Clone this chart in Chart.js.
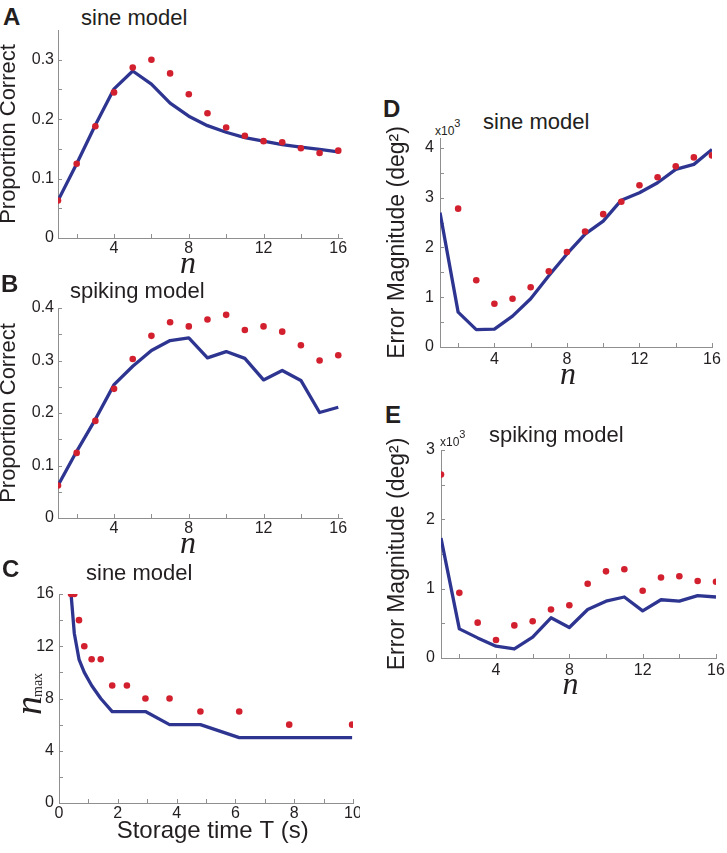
<!DOCTYPE html>
<html>
<head>
<meta charset="utf-8">
<script src="https://cdn.jsdelivr.net/npm/chart.js@4.4.1/dist/chart.umd.min.js"></script>
<style>
  body { margin: 0; width: 727px; height: 853px; position: relative; overflow: hidden; background: #fff; font-family: "Liberation Sans", Arial, sans-serif; color: #231f20; }
  canvas { position: absolute; }
  .letter { position: absolute; font-weight: bold; font-size: 24px; line-height: 1; }
  .ptitle { position: absolute; font-size: 22px; line-height: 1; white-space: nowrap; }
  .mult { position: absolute; font-size: 12px; line-height: 1; white-space: nowrap; }
  .mult sup { position: relative; top: -0.7em; font-size: 11px; vertical-align: baseline; }
  #clipC { position: absolute; left: 0; top: 540px; width: 360px; height: 313px; overflow: hidden; }
  #nmax { position: absolute; left: 9px; top: 715px; transform: rotate(-90deg); transform-origin: left top; font-family: "Liberation Serif", serif; line-height: 1; white-space: nowrap; }
  #nmax i { font-size: 38px; }
  #nmax sub { font-size: 14px; vertical-align: baseline; position: relative; top: 1px; margin-left: -1px; }
</style>
</head>
<body>

<div class="letter" style="left:3px; top:5px;">A</div>
<div class="ptitle" style="left:81px; top:7px;">sine model</div>
<canvas id="chartA" width="356" height="281" style="left:-2px; top:0px;"></canvas>

<div class="letter" style="left:1px; top:272px;">B</div>
<div class="ptitle" style="left:70px; top:280px;">spiking model</div>
<canvas id="chartB" width="356" height="291" style="left:-2px; top:270px;"></canvas>

<div class="letter" style="left:2px; top:557px;">C</div>
<div class="ptitle" style="left:86px; top:562px;">sine model</div>
<div id="clipC"><canvas id="chartC" width="375" height="303" style="left:-2px; top:0px;"></canvas></div>
<div id="nmax"><i>n</i><sub>max</sub></div>

<div class="letter" style="left:383px; top:97px;">D</div>
<div class="ptitle" style="left:483px; top:111px;">sine model</div>
<div class="mult" style="left:435px; top:125px;">x10<sup>3</sup></div>
<canvas id="chartD" width="338" height="312" style="left:386px; top:80px;"></canvas>

<div class="letter" style="left:385px; top:403px;">E</div>
<div class="ptitle" style="left:489px; top:424px;">spiking model</div>
<div class="mult" style="left:440px; top:436px;">x10<sup>3</sup></div>
<canvas id="chartE" width="342" height="322" style="left:386px; top:380px;"></canvas>

<script>
// set sizes n
const nVals = [1, 2, 3, 4, 5, 6, 7, 8, 9, 10, 11, 12, 13, 14, 15, 16];

// A: proportion correct, sine model
const dotsA = [0.063, 0.125, 0.188, 0.245, 0.287, 0.300, 0.277, 0.242, 0.210, 0.186, 0.172, 0.163, 0.161, 0.151, 0.143, 0.147];
const lineA = [0.063, 0.125, 0.190, 0.251, 0.281, 0.259, 0.227, 0.205, 0.189, 0.178, 0.169, 0.163, 0.157, 0.153, 0.149, 0.145];

// B: proportion correct, spiking model
const dotsB = [0.062, 0.124, 0.185, 0.246, 0.303, 0.347, 0.373, 0.365, 0.378, 0.387, 0.358, 0.365, 0.355, 0.329, 0.300, 0.310];
const lineB = [0.062, 0.127, 0.188, 0.254, 0.289, 0.319, 0.338, 0.343, 0.305, 0.317, 0.304, 0.263, 0.281, 0.262, 0.201, 0.211];

// C: n_max against storage time T (s)
const storageT = [0.41, 0.52, 0.68, 0.86, 1.11, 1.42, 1.81, 2.31, 2.94, 3.76, 4.81, 6.13, 7.83, 9.97];
const dotsC = [16, 16, 14, 12, 11, 11, 9, 9, 8, 8, 7, 7, 6, 6];
const lineC = [16, 13, 11, 10, 9, 8, 7, 7, 7, 6, 6, 5, 5, 5];

// D, E: error magnitude (deg^2, x10^3)
const dotsD = [null, 2.78, 1.34, 0.87, 0.97, 1.20, 1.52, 1.91, 2.32, 2.67, 2.92, 3.25, 3.41, 3.63, 3.81, 3.85];
const lineD = [2.70, 0.70, 0.35, 0.36, 0.62, 0.97, 1.43, 1.87, 2.27, 2.53, 2.95, 3.10, 3.30, 3.57, 3.67, 3.97];
const dotsE = [2.645, 0.94, 0.51, 0.26, 0.47, 0.53, 0.70, 0.76, 1.07, 1.25, 1.28, 0.97, 1.16, 1.18, 1.11, 1.10];
const lineE = [1.73, 0.42, 0.29, 0.17, 0.13, 0.30, 0.58, 0.44, 0.70, 0.82, 0.88, 0.68, 0.84, 0.82, 0.90, 0.88];

// tick marks and which of them get a label
const xTicksN = [2, 4, 6, 8, 10, 12, 14, 16];
const xLabelsN = [4, 8, 12, 16];
const xTicksC = [0, 1, 2, 3, 4, 5, 6, 7, 8, 9, 10];
const xLabelsC = [0, 2, 4, 6, 8, 10];
const yTicksA = [0, 0.05, 0.1, 0.15, 0.2, 0.25, 0.3];
const yLabelsA = [0, 0.1, 0.2, 0.3];
const yTicksB = [0, 0.05, 0.1, 0.15, 0.2, 0.25, 0.3, 0.35, 0.4];
const yLabelsB = [0, 0.1, 0.2, 0.3, 0.4];
const yTicksC = [0, 2, 4, 6, 8, 10, 12, 14, 16];
const yLabelsC = [0, 4, 8, 12, 16];
const yTicksD = [0, 0.5, 1, 1.5, 2, 2.5, 3, 3.5, 4];
const yLabelsD = [0, 1, 2, 3, 4];
const yTicksE = [0, 0.5, 1, 1.5, 2, 2.5, 3];
const yLabelsE = [0, 1, 2, 3];

const navy = '#2d3591';
const red = '#d2202f';
const axisGray = '#8f8f8f';
const textDark = '#231f20';

// short tick marks pointing into the plot, like the matlab style
const innerTicks = {
    id: 'innerTicks',
    beforeDatasetsDraw(chart) {
        const { ctx, chartArea, scales } = chart;
        ctx.save();
        ctx.strokeStyle = axisGray;
        ctx.lineWidth = 1;
        ctx.beginPath();
        scales.x.ticks.forEach(t => {
            const px = Math.round(scales.x.getPixelForValue(t.value)) + 0.5;
            ctx.moveTo(px, chartArea.bottom);
            ctx.lineTo(px, chartArea.bottom - 4);
        });
        scales.y.ticks.forEach(t => {
            const py = Math.round(scales.y.getPixelForValue(t.value)) + 0.5;
            ctx.moveTo(chartArea.left, py);
            ctx.lineTo(chartArea.left + 4, py);
        });
        ctx.stroke();
        ctx.restore();
    }
};

function points(xs, ys) {
    return xs.map((x, i) => ({ x: x, y: ys[i] }));
}

function makeAxis(p) {
    return {
        type: 'linear',
        position: p.position,
        min: p.min,
        max: p.max,
        border: { color: axisGray, width: 1 },
        grid: { display: false, drawTicks: false },
        ticks: {
            color: textDark,
            font: { family: 'Liberation Sans', size: 16 },
            padding: p.padding,
            autoSkip: false,
            maxRotation: 0,
            callback: v => p.labels.includes(v) ? String(v) : ''
        },
        title: {
            display: !!p.title,
            text: p.title || '',
            color: textDark,
            font: p.titleFont,
            padding: 0
        },
        afterBuildTicks: scale => { scale.ticks = p.ticks.map(v => ({ value: v })); },
        afterFit: scale => {
            if (p.position === 'left') scale.width = p.size;
            else scale.height = p.size;
        }
    };
}

const nFont = { family: 'Liberation Serif', size: 32, style: 'italic', lineHeight: 1 };
const propFont = { family: 'Liberation Sans', size: 22, lineHeight: 1 };
const errFont = { family: 'Liberation Sans', size: 23, lineHeight: 1 };

function makePanel(id, p) {
    new Chart(document.getElementById(id), {
        type: 'line',
        data: {
            datasets: [
                {
                    data: points(p.xs, p.dots),
                    showLine: false,
                    pointRadius: 3.3,
                    pointBorderWidth: 0,
                    pointBackgroundColor: red
                },
                {
                    data: points(p.xs, p.line),
                    borderColor: navy,
                    borderWidth: 3.3,
                    borderJoinStyle: 'round',
                    pointRadius: 0,
                    tension: 0
                }
            ]
        },
        options: {
            responsive: false,
            animation: false,
            events: [],
            layout: { padding: p.pad },
            plugins: { legend: { display: false }, tooltip: { enabled: false } },
            scales: { x: makeAxis(p.x), y: makeAxis(p.y) }
        },
        plugins: [innerTicks]
    });
}

makePanel('chartA', {
    xs: nVals, dots: dotsA, line: lineA,
    pad: { left: 0, top: 30, right: 12, bottom: 0 },
    x: { position: 'bottom', min: 1, max: 16.2, ticks: xTicksN, labels: xLabelsN, padding: 1, size: 43, title: 'n   ', titleFont: nFont },
    y: { position: 'left', min: 0, max: 0.35, ticks: yTicksA, labels: yLabelsA, padding: 4, size: 60, title: 'Proportion Correct', titleFont: propFont }
});

makePanel('chartB', {
    xs: nVals, dots: dotsB, line: lineB,
    pad: { left: 0, top: 38, right: 12, bottom: 0 },
    x: { position: 'bottom', min: 1, max: 16.2, ticks: xTicksN, labels: xLabelsN, padding: 1, size: 43, title: 'n   ', titleFont: nFont },
    y: { position: 'left', min: 0, max: 0.4, ticks: yTicksB, labels: yLabelsB, padding: 4, size: 60, title: 'Proportion Correct', titleFont: propFont }
});

makePanel('chartC', {
    xs: storageT, dots: dotsC, line: lineC,
    pad: { left: 0, top: 54, right: 20, bottom: 0 },
    x: { position: 'bottom', min: 0, max: 10, ticks: xTicksC, labels: xLabelsC, padding: 1, size: 40, title: '  Storage time T (s)', titleFont: { family: 'Liberation Sans', size: 24, lineHeight: 1 } },
    y: { position: 'left', min: 0, max: 16, ticks: yTicksC, labels: yLabelsC, padding: 5, size: 61 }
});

makePanel('chartD', {
    xs: nVals, dots: dotsD, line: lineD,
    pad: { left: 0, top: 58, right: 12, bottom: 0 },
    x: { position: 'bottom', min: 1, max: 16, ticks: xTicksN, labels: xLabelsN, padding: 2.5, size: 45, title: 'n  ', titleFont: nFont },
    y: { position: 'left', min: 0, max: 4.2, ticks: yTicksD, labels: yLabelsD, padding: 6, size: 54, title: 'Error Magnitude (deg²)', titleFont: errFont }
});

makePanel('chartE', {
    xs: nVals, dots: dotsE, line: lineE,
    pad: { left: 0, top: 70, right: 12, bottom: 0 },
    x: { position: 'bottom', min: 1, max: 16, ticks: xTicksN, labels: xLabelsN, padding: 2.5, size: 44, title: 'n  ', titleFont: nFont },
    y: { position: 'left', min: 0, max: 3, ticks: yTicksE, labels: yLabelsE, padding: 6, size: 55, title: 'Error Magnitude (deg²)', titleFont: errFont }
});
</script>
</body>
</html>
